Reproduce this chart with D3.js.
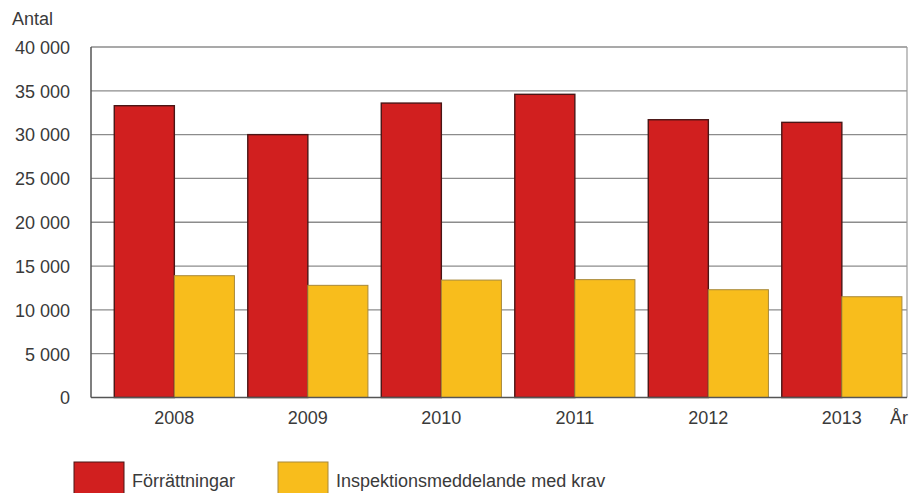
<!DOCTYPE html>
<html>
<head>
<meta charset="utf-8">
<script src="https://cdn.jsdelivr.net/npm/d3@7"></script>
<style>
  html, body { margin: 0; padding: 0; background: #fff; }
  svg { display: block; }
  text { font-family: "Liberation Sans", Arial, sans-serif; fill: #3a3a3a; }
</style>
</head>
<body>
<svg id="chart" width="909" height="493"></svg>
<script>
// Antal förrättningar och inspektionsmeddelanden med krav per år
const years = ["2008", "2009", "2010", "2011", "2012", "2013"];
const forrattningar = [33300, 30000, 33600, 34600, 31700, 31400];
const inspektionsmeddelanden = [13900, 12800, 13400, 13450, 12300, 11500];
const seriesNames = ["Förrättningar", "Inspektionsmeddelande med krav"];
const seriesColors = ["#d11f1f", "#f8bd1c"];
const seriesStrokes = ["#4a1616", "#a8893a"];
const yTicks = [0, 5000, 10000, 15000, 20000, 25000, 30000, 35000, 40000];

const svg = d3.select("#chart");
const plot = { left: 91, right: 907, top: 47, bottom: 397.5 };

const y = d3.scaleLinear().domain([0, 40000]).range([plot.bottom, plot.top]);
const x = d3.scaleBand().domain(years).range([107.6, 908.6])
  .paddingInner(0.1).paddingOuter(0.05);
const xs = d3.scaleBand().domain([0, 1]).range([0, x.bandwidth()]);

const fmt = v => d3.format(",")(v).replace(/,/g, " ");

// grid lines
svg.append("g")
  .selectAll("line").data(yTicks.filter(d => d > 0)).join("line")
  .attr("x1", plot.left).attr("x2", plot.right)
  .attr("y1", d => y(d)).attr("y2", d => y(d))
  .attr("stroke", "#8c8c8c").attr("stroke-width", 1.3);

// right border
svg.append("line")
  .attr("x1", plot.right).attr("x2", plot.right)
  .attr("y1", plot.top).attr("y2", plot.bottom)
  .attr("stroke", "#9a9a9a").attr("stroke-width", 1.2);

// bars
const rows = years.map((yr, i) => ({ year: yr, values: [forrattningar[i], inspektionsmeddelanden[i]] }));
const groups = svg.append("g").selectAll("g").data(rows).join("g")
  .attr("transform", d => `translate(${x(d.year)},0)`);
groups.selectAll("rect").data(d => d.values.map((v, k) => ({ v, k }))).join("rect")
  .attr("x", d => xs(d.k))
  .attr("width", xs.bandwidth())
  .attr("y", d => y(d.v))
  .attr("height", d => y(0) - y(d.v))
  .attr("fill", d => seriesColors[d.k])
  .attr("stroke", d => seriesStrokes[d.k])
  .attr("stroke-width", d => d.k === 0 ? 1.4 : 1);

// axes lines
svg.append("line")
  .attr("x1", plot.left).attr("x2", plot.left)
  .attr("y1", plot.top).attr("y2", plot.bottom)
  .attr("stroke", "#555").attr("stroke-width", 1.5);
svg.append("line")
  .attr("x1", plot.left).attr("x2", plot.right)
  .attr("y1", plot.bottom).attr("y2", plot.bottom)
  .attr("stroke", "#555").attr("stroke-width", 1.5);

// y tick labels
svg.append("g").selectAll("text").data(yTicks).join("text")
  .attr("x", 70).attr("y", d => y(d))
  .attr("dy", "0.38em")
  .attr("text-anchor", "end")
  .attr("font-size", 18)
  .text(fmt);

svg.append("text").attr("x", 12).attr("y", 25).attr("font-size", 18).text("Antal");

// x tick labels
svg.append("g").selectAll("text").data(years).join("text")
  .attr("x", d => x(d) + x.bandwidth() / 2).attr("y", 424)
  .attr("text-anchor", "middle")
  .attr("font-size", 18)
  .text(d => d);
svg.append("text").attr("x", 890).attr("y", 424).attr("font-size", 18).text("År");

// legend
const legendX = [74, 278];
const lg = svg.append("g").selectAll("g").data(seriesNames).join("g")
  .attr("transform", (d, i) => `translate(${legendX[i]},462)`);
lg.append("rect").attr("width", 50).attr("height", 40)
  .attr("fill", (d, i) => seriesColors[i])
  .attr("stroke", (d, i) => seriesStrokes[i]).attr("stroke-width", 1);
lg.append("text").attr("x", 58).attr("y", 25).attr("font-size", 18).text(d => d);
</script>
</body>
</html>
